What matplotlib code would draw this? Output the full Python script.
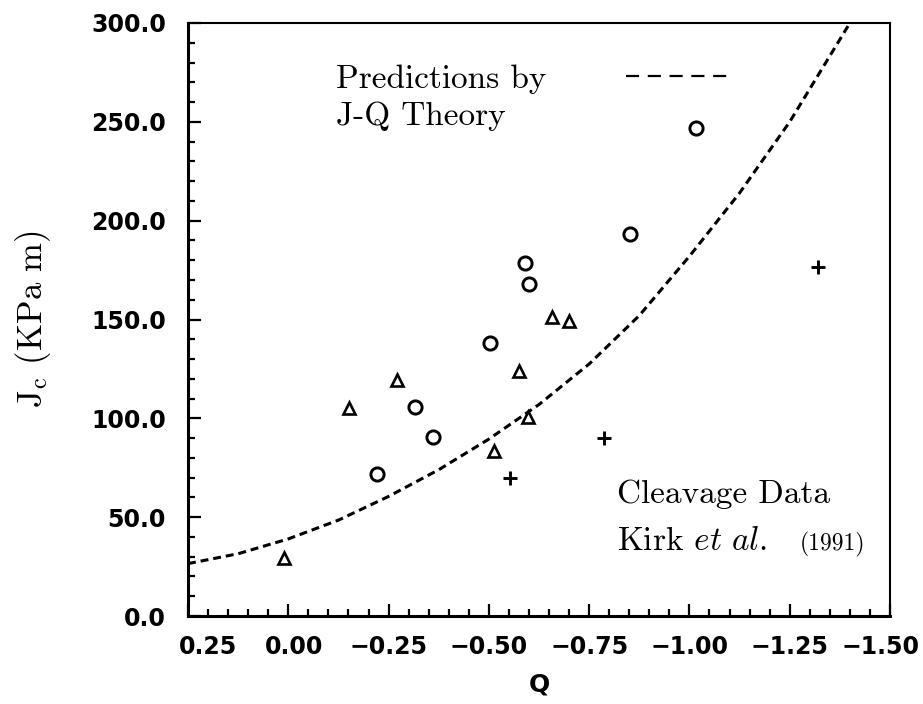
import matplotlib
matplotlib.use("Agg")
import matplotlib.pyplot as plt
import matplotlib.transforms as mtransforms
from matplotlib.lines import Line2D
from matplotlib.ticker import MultipleLocator

plt.rcParams['mathtext.fontset'] = 'cm'

# curva de prediccion J-Q
pred_q = [0.25, 0.125, 0.0, -0.125, -0.25, -0.375, -0.5, -0.625, -0.75,
          -0.875, -1.0, -1.125, -1.25, -1.4]
pred_jc = [26.5, 31.5, 39.0, 48.5, 60.5, 74.0, 89.5, 107.0, 127.5,
           152.0, 182.0, 214.0, 250.0, 300.0]

# datos de clivaje, Kirk et al. (1991)
circ_q = [-0.221, -0.315, -0.362, -0.503, -0.590, -0.599, -0.852, -1.017]
circ_jc = [71.7, 105.5, 90.4, 138.0, 178.4, 168.0, 193.2, 247.0]

tri_q = [0.011, -0.151, -0.271, -0.512, -0.575, -0.597, -0.658, -0.700]
tri_jc = [29.2, 105.0, 119.4, 83.6, 124.0, 100.8, 151.4, 149.4]

plus_q = [-0.553, -0.786, -1.320]
plus_jc = [69.6, 90.0, 176.7]

xticks = [0.25, 0.0, -0.25, -0.5, -0.75, -1.0, -1.25, -1.5]
xticklabels = ['0.25', '0.00', '\u22120.25', '\u22120.50', '\u22120.75',
               '\u22121.00', '\u22121.25', '\u22121.50']
yticks = [0, 50, 100, 150, 200, 250, 300]
yticklabels = ['0.0', '50.0', '100.0', '150.0', '200.0', '250.0', '300.0']

fig = plt.figure(figsize=(9.23, 7.04), dpi=100)
ax = fig.add_axes([188 / 923, 88 / 704, 702 / 923, 593 / 704])

ax.plot(pred_q, pred_jc, color='black', lw=2.2, linestyle=(0, (2.6, 1.6)))
ax.plot(circ_q, circ_jc, 'o', ms=9.5, mfc='none', mec='black', mew=2.1)
ax.plot(tri_q, tri_jc, '^', ms=9, mfc='none', mec='black', mew=1.9)
ax.plot(plus_q, plus_jc, '+', ms=10, mec='black', mew=2.1)

ax.set_xlim(0.25, -1.5)
ax.set_ylim(0, 300)
ax.set_xticks(xticks)
ax.set_xticklabels(xticklabels)
ax.set_yticks(yticks)
ax.set_yticklabels(yticklabels)
ax.xaxis.set_minor_locator(MultipleLocator(0.05))
ax.yaxis.set_minor_locator(MultipleLocator(10))

ax.tick_params(which='both', direction='in', top=False, right=False, width=1.6)
ax.tick_params(which='major', length=9)
ax.tick_params(which='minor', length=5)
ax.tick_params(axis='y', pad=16)
ax.tick_params(axis='x', pad=14)
for lab in ax.get_xticklabels() + ax.get_yticklabels():
    lab.set_fontfamily('DejaVu Sans')
    lab.set_fontweight('bold')
    lab.set_fontsize(17)

# etiquetas extremas desplazadas como en el original
xt = ax.xaxis.get_major_ticks()
for idx, dx in [(0, 20), (1, 6), (7, -9)]:
    lab = xt[idx].label1
    lab.set_transform(lab.get_transform() +
                      mtransforms.ScaledTranslation(dx / 100, 0, fig.dpi_scale_trans))

for side in ['left', 'bottom']:
    ax.spines[side].set_linewidth(2.2)
for side in ['top', 'right']:
    ax.spines[side].set_linewidth(1.5)

ax.set_xlabel('Q', fontfamily='DejaVu Sans', fontweight='bold', fontsize=18)
ax.xaxis.set_label_coords(0.5, -0.095)
ax.set_ylabel(r'J$_\mathrm{c}$ (KPa m)', fontfamily='cmr10', fontsize=25)
ax.yaxis.set_label_coords(-0.192, 0.5)

# leyenda de la curva
proxy = Line2D([], [], color='black', lw=1.6, linestyle=(0, (5.9, 3.9)))
leg = ax.legend([proxy], ['Predictions by'], loc='upper left',
                bbox_to_anchor=(0.211, 0.930), frameon=False, markerfirst=False,
                borderpad=0, borderaxespad=0, handlelength=3.1, handletextpad=2.4,
                prop={'family': 'cmr10', 'size': 24})
ax.text(0.211, 0.828, 'J-Q Theory', transform=ax.transAxes,
        fontfamily='cmr10', fontsize=24, va='baseline')

ax.text(0.611, 0.1906, 'Cleavage Data', transform=ax.transAxes,
        fontfamily='cmr10', fontsize=24, va='baseline')
ax.text(0.611, 0.111, r'Kirk $et\ al.$', transform=ax.transAxes,
        fontfamily='cmr10', fontsize=24, va='baseline')
ax.text(0.872, 0.111, '(1991)', transform=ax.transAxes,
        fontfamily='cmr10', fontsize=17, va='baseline')

fig.savefig('out.png', dpi=100)
